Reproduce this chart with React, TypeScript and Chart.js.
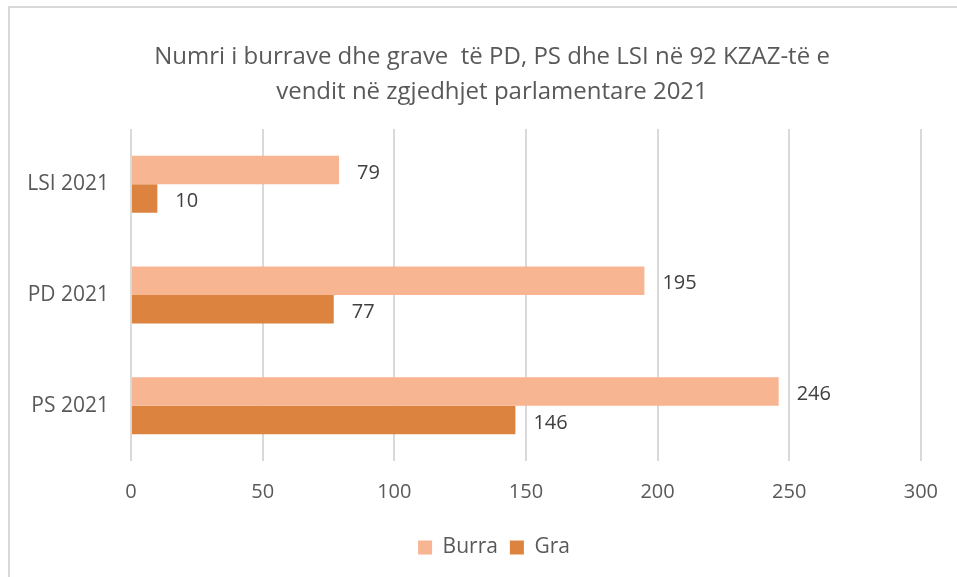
import React, { useEffect, useRef } from "react";
import { Chart, registerables } from "chart.js";

Chart.register(...registerables);

const categories = ["LSI 2021", "PD 2021", "PS 2021"];
const burra = [79, 195, 246];
const gra = [10, 77, 146];
const seriesNames = ["Burra", "Gra"];
const titleLines = [
  "Numri i burrave dhe grave  të PD, PS dhe LSI në 92 KZAZ-të e",
  "vendit në zgjedhjet parlamentare 2021",
];

const FONT = "'Open Sans', 'DejaVu Sans', sans-serif";

const valueLabels = {
  id: "valueLabels",
  afterDatasetsDraw(chart: any) {
    const ctx = chart.ctx;
    ctx.save();
    ctx.font = `20px ${FONT}`;
    ctx.fillStyle = "#404040";
    ctx.textBaseline = "middle";
    ctx.textAlign = "left";
    chart.data.datasets.forEach((ds: any, di: number) => {
      const meta = chart.getDatasetMeta(di);
      meta.data.forEach((el: any, i: number) => {
        ctx.fillText(String(ds.data[i]), el.x + 18, el.y + 3);
      });
    });
    ctx.restore();
  },
};

// shift title and legend horizontally so they centre like the original
const shiftBlocks = {
  id: "shiftBlocks",
  afterLayout(chart: any) {
    if (chart.titleBlock) {
      chart.titleBlock.left += 31;
      chart.titleBlock.right += 31;
    }
    if (chart.legend) {
      chart.legend.left += 33;
      chart.legend.right += 33;
    }
  },
};

export default function App() {
  const ref = useRef<HTMLCanvasElement>(null);
  useEffect(() => {
    const chart = new Chart(ref.current!, {
      type: "bar",
      data: {
        labels: categories,
        datasets: [
          {
            label: seriesNames[0],
            data: burra,
            backgroundColor: "#F8B592",
            barPercentage: 1,
            categoryPercentage: 0.515,
          },
          {
            label: seriesNames[1],
            data: gra,
            backgroundColor: "#DC843F",
            barPercentage: 1,
            categoryPercentage: 0.515,
          },
        ],
      },
      options: {
        indexAxis: "y",
        animation: false,
        responsive: false,
        layout: { padding: { left: 0, right: 35, top: 0, bottom: 9 } },
        scales: {
          x: {
            min: 0,
            max: 300,
            ticks: {
              stepSize: 50,
              color: "#595959",
              font: { family: FONT, size: 20 },
              padding: 19,
            },
            grid: { color: "#D9D9D9", lineWidth: 2, drawTicks: false },
            border: { display: false },
            afterFit: (s: any) => {
              s.height = 64;
            },
          },
          y: {
            ticks: {
              color: "#595959",
              font: { family: FONT, size: 21, lineHeight: 1.4 },
              padding: 22,
            },
            grid: { display: false, drawTicks: false },
            border: { display: false },
            afterFit: (s: any) => {
              s.width = 131;
            },
          },
        },
        plugins: {
          title: {
            display: true,
            text: titleLines,
            color: "#595959",
            font: { family: FONT, size: 24, weight: "normal", lineHeight: 35 / 24 },
            padding: { top: 39.5, bottom: 19.5 },
          },
          legend: {
            position: "bottom",
            labels: {
              color: "#595959",
              font: { family: FONT, size: 21 },
              boxWidth: 14,
              boxHeight: 14,
              padding: 12,
            },
          },
          tooltip: { enabled: false },
        },
      },
      plugins: [valueLabels, shiftBlocks],
    });
    return () => chart.destroy();
  }, []);
  return (
    <div style={{ position: "fixed", left: 0, top: 0, width: 957, height: 577, overflow: "hidden", background: "#fff" }}>
      <div
        style={{
          position: "absolute",
          left: 8,
          top: 6,
          width: 2000,
          height: 2000,
          borderLeft: "2px solid #D9D9D9",
          borderTop: "2px solid #D9D9D9",
        }}
      />
      <canvas ref={ref} width={957} height={577} style={{ position: "absolute", left: 0, top: 0 }} />
    </div>
  );
}
